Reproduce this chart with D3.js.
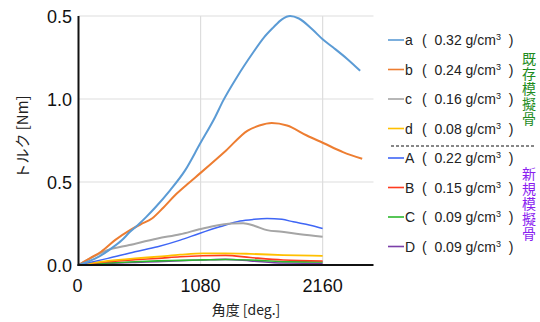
<!DOCTYPE html>
<html>
<head>
<meta charset="utf-8">
<script src="https://cdn.jsdelivr.net/npm/d3@7"></script>
<style>
  body { margin: 0; background: #fff; }
  text { font-family: "Liberation Sans", Arial, sans-serif; }
  .jp { font-family: "Noto Sans CJK JP", sans-serif; }
</style>
</head>
<body>
<script>
// tick labels (top label reads 0.5 in the original)
var xTicks = [0, 1080, 2160];
var yTicks = [0, 0.5, 1.0, 1.5];
var yTickLabels = ["0.0", "0.5", "1.0", "0.5"];

// series names and densities
var names = ["a", "b", "c", "d", "A", "B", "C", "D"];
var densities = ["0.32", "0.24", "0.16", "0.08", "0.22", "0.15", "0.09", "0.09"];
var colors = ["#5B9BD5", "#ED7D31", "#A5A5A5", "#FFC000", "#3F66F5", "#FF3B1F", "#2DB82D", "#7B3FA8"];

// angle [deg] / torque [Nm]
var degA = [0, 180, 270, 385, 456, 540, 600, 677, 810, 943, 1075, 1208, 1280, 1400, 1545, 1640, 1722, 1800, 1872, 1950, 2075, 2160, 2254, 2380, 2492];
var valA = [0, 0.05, 0.09, 0.15, 0.2, 0.25, 0.29, 0.345, 0.45, 0.57, 0.73, 0.89, 0.99, 1.13, 1.28, 1.37, 1.43, 1.48, 1.5, 1.485, 1.415, 1.36, 1.31, 1.24, 1.17];

var degB = [0, 100, 200, 323, 456, 550, 650, 750, 854, 960, 1080, 1306, 1497, 1600, 1710, 1845, 2020, 2165, 2340, 2510];
var valB = [0, 0.04, 0.08, 0.15, 0.21, 0.245, 0.28, 0.345, 0.42, 0.485, 0.555, 0.69, 0.81, 0.84, 0.855, 0.84, 0.78, 0.735, 0.68, 0.64];

var degC = [0, 260, 450, 700, 900, 1069, 1200, 1361, 1457, 1560, 1668, 1800, 1960, 2160];
var valC = [0, 0.09, 0.12, 0.16, 0.185, 0.215, 0.235, 0.25, 0.252, 0.235, 0.21, 0.2, 0.185, 0.17];

var degNewA = [0, 260, 500, 700, 900, 1069, 1250, 1430, 1550, 1668, 1800, 1900, 2050, 2160];
var valNewA = [0, 0.04, 0.08, 0.11, 0.15, 0.19, 0.23, 0.265, 0.275, 0.28, 0.275, 0.26, 0.24, 0.22];

var degSmall = [0, 260, 500, 700, 900, 1100, 1300, 1520, 1810, 2160];
var valD = [0, 0.025, 0.04, 0.05, 0.062, 0.07, 0.07, 0.067, 0.06, 0.055];
var valNewB = [0, 0.02, 0.032, 0.04, 0.05, 0.056, 0.058, 0.045, 0.03, 0.024];
var valNewC = [0, 0.012, 0.02, 0.025, 0.028, 0.031, 0.033, 0.03, 0.02, 0.018];
var valNewD = [0, 0.01, 0.016, 0.02, 0.026, 0.03, 0.034, 0.025, 0.012, 0.01];

var W = 540, H = 322;
var svg = d3.select("body").append("svg").attr("width", W).attr("height", H);

var x = d3.scaleLinear().domain([0, 2610]).range([78.5, 373.5]);
var y = d3.scaleLinear().domain([0, 1.5]).range([265, 16]);

// gridlines
svg.append("g").selectAll("line.h").data(yTicks.slice(1)).enter().append("line")
  .attr("x1", x(0)).attr("x2", x(2610))
  .attr("y1", function(d) { return y(d); }).attr("y2", function(d) { return y(d); })
  .attr("stroke", "#DDDDDD").attr("stroke-width", 1.2);
svg.append("g").selectAll("line.v").data(xTicks.slice(1)).enter().append("line")
  .attr("x1", function(d) { return x(d); }).attr("x2", function(d) { return x(d); })
  .attr("y1", y(1.5)).attr("y2", y(0))
  .attr("stroke", "#DDDDDD").attr("stroke-width", 1.2);

// series (drawn back to front)
var series = [
  { deg: degSmall, val: valNewD, i: 7, w: 1.6 },
  { deg: degSmall, val: valNewC, i: 6, w: 1.6 },
  { deg: degSmall, val: valNewB, i: 5, w: 1.6 },
  { deg: degSmall, val: valD, i: 3, w: 1.8 },
  { deg: degNewA, val: valNewA, i: 4, w: 1.5 },
  { deg: degC, val: valC, i: 2, w: 2 },
  { deg: degB, val: valB, i: 1, w: 2 },
  { deg: degA, val: valA, i: 0, w: 2 }
];

var line = d3.line()
  .x(function(d) { return x(d[0]); })
  .y(function(d) { return y(d[1]); })
  .curve(d3.curveMonotoneX);

series.forEach(function(s) {
  svg.append("path")
    .datum(d3.zip(s.deg, s.val))
    .attr("d", line)
    .attr("fill", "none")
    .attr("stroke", colors[s.i])
    .attr("stroke-width", s.w);
});

// axes
svg.append("line").attr("x1", x(0)).attr("x2", x(0)).attr("y1", y(1.5)).attr("y2", y(0) + 1)
  .attr("stroke", "#111").attr("stroke-width", 2);
svg.append("line").attr("x1", x(0) - 1).attr("x2", x(2610)).attr("y1", y(0)).attr("y2", y(0))
  .attr("stroke", "#111").attr("stroke-width", 2);

svg.append("g").selectAll("text").data(yTicks).enter().append("text")
  .attr("x", 72).attr("y", function(d) { return y(d) + 6.5; })
  .attr("text-anchor", "end").attr("font-size", 18).attr("fill", "#111")
  .text(function(d, i) { return yTickLabels[i]; });

svg.append("g").selectAll("text").data(xTicks).enter().append("text")
  .attr("x", function(d) { return x(d) + (d === 0 ? -1 : 0); }).attr("y", 292)
  .attr("text-anchor", "middle").attr("font-size", 18).attr("fill", "#111")
  .text(function(d) { return d; });

svg.append("text").attr("class", "jp")
  .attr("transform", "translate(28,137) rotate(-90)")
  .attr("text-anchor", "middle").attr("font-size", 15).attr("fill", "#222")
  .text("トルク [Nm]");

svg.append("text").attr("class", "jp")
  .attr("x", 246).attr("y", 315)
  .attr("text-anchor", "middle").attr("font-size", 14).attr("fill", "#222")
  .text("角度 [deg.]");

// legend
var rowY = [40, 69.5, 99, 128.5, 158, 187.5, 217, 246.5];
var leg = svg.append("g").selectAll("g").data(names).enter().append("g")
  .attr("transform", function(d, i) { return "translate(0," + rowY[i] + ")"; });
leg.append("line").attr("x1", 388).attr("x2", 404).attr("y1", 0).attr("y2", 0)
  .attr("stroke", function(d, i) { return colors[i]; }).attr("stroke-width", 1.6);
leg.append("text").attr("x", 405).attr("y", 5).attr("font-size", 14).attr("fill", "#222")
  .text(function(d) { return d; });
var lt = leg.append("text").attr("x", 422).attr("y", 5).attr("font-size", 14).attr("fill", "#222")
  .attr("xml:space", "preserve");
lt.append("tspan").text(function(d, i) { return "(  " + densities[i] + " g/cm"; });
lt.append("tspan").attr("font-size", 9).attr("dy", -5).text("3");
lt.append("tspan").attr("dy", 5).text("  )");

svg.append("line").attr("x1", 391).attr("x2", 534).attr("y1", 146).attr("y2", 146)
  .attr("stroke", "#111").attr("stroke-width", 1.2).attr("stroke-dasharray", "3,2");

// vertical group labels
function vertLabel(str, cx, y0, color) {
  svg.append("text")
    .attr("class", "jp")
    .attr("x", cx).attr("y", y0)
    .style("writing-mode", "vertical-rl")
    .style("letter-spacing", "1px")
    .attr("font-size", 14).attr("fill", color)
    .text(str);
}
vertLabel("既存模擬骨", 529, 52, "#1E8C1E");
vertLabel("新規模擬骨", 529, 167, "#8A1EF0");
</script>
</body>
</html>
